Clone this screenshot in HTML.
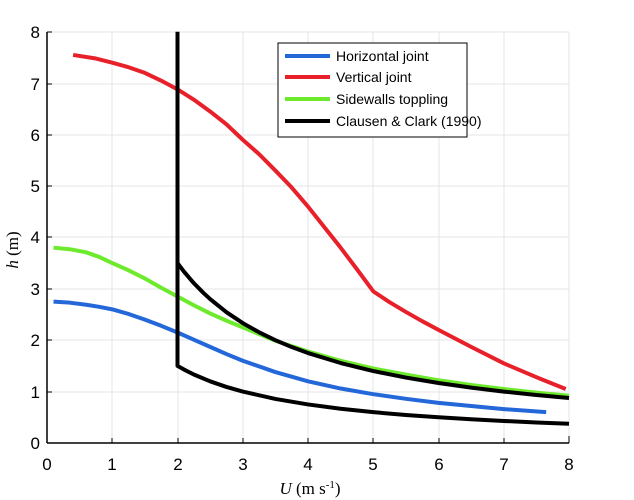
<!DOCTYPE html>
<html><head><style>body{margin:0;background:#fff}svg{display:block}</style></head><body>
<svg width="634" height="500" xmlns="http://www.w3.org/2000/svg" font-family="Liberation Sans, sans-serif">
<rect width="634" height="500" fill="#fff"/>
<g stroke="#e4e4e4" stroke-width="1">
<line x1="112" y1="32" x2="112" y2="443"/><line x1="178" y1="32" x2="178" y2="443"/><line x1="243" y1="32" x2="243" y2="443"/><line x1="308" y1="32" x2="308" y2="443"/><line x1="373" y1="32" x2="373" y2="443"/><line x1="439" y1="32" x2="439" y2="443"/><line x1="504" y1="32" x2="504" y2="443"/><line x1="569" y1="32" x2="569" y2="443"/>
<line x1="47" y1="32" x2="569" y2="32"/><line x1="47" y1="84" x2="569" y2="84"/><line x1="47" y1="135" x2="569" y2="135"/><line x1="47" y1="186" x2="569" y2="186"/><line x1="47" y1="237" x2="569" y2="237"/><line x1="47" y1="289" x2="569" y2="289"/><line x1="47" y1="340" x2="569" y2="340"/><line x1="47" y1="392" x2="569" y2="392"/>
</g>
<g transform="translate(47,443) scale(65.25,-51.4)" fill="none" stroke-width="4" stroke-linejoin="round">
<path vector-effect="non-scaling-stroke" stroke="#e8202a" d="M0.4,7.55 L0.75,7.48 L1,7.4 L1.25,7.31 L1.5,7.2 L1.75,7.05 L2,6.88 L2.25,6.68 L2.5,6.45 L2.75,6.2 L3,5.9 L3.25,5.62 L3.5,5.3 L3.75,4.97 L4,4.6 L4.25,4.2 L4.5,3.8 L4.75,3.38 L5,2.95 L5.25,2.74 L5.5,2.55 L5.75,2.37 L6,2.2 L6.5,1.87 L7,1.55 L7.5,1.28 L7.95,1.05"/>
<path vector-effect="non-scaling-stroke" stroke="#6eea2c" d="M0.1,3.8 L0.35,3.77 L0.6,3.71 L0.8,3.62 L1,3.5 L1.25,3.36 L1.5,3.2 L1.75,3.02 L2,2.85 L2.25,2.68 L2.5,2.52 L2.75,2.38 L3,2.25 L3.5,1.99 L4,1.78 L4.5,1.6 L5,1.45 L5.5,1.33 L6,1.22 L6.5,1.13 L7,1.05 L7.5,0.98 L8,0.92"/>
<path vector-effect="non-scaling-stroke" stroke="#2367d9" d="M0.1,2.75 L0.35,2.73 L0.6,2.69 L0.8,2.65 L1,2.6 L1.25,2.51 L1.5,2.4 L1.75,2.28 L2,2.15 L2.25,2.01 L2.5,1.87 L2.75,1.73 L3,1.6 L3.5,1.38 L4,1.2 L4.5,1.06 L5,0.95 L5.5,0.86 L6,0.78 L6.5,0.72 L7,0.66 L7.65,0.6"/>
<path vector-effect="non-scaling-stroke" stroke="#000" d="M2,8 L2,1.5 L2.1,1.429 L2.25,1.333 L2.5,1.2 L2.75,1.091 L3,1 L3.5,0.857 L4,0.75 L4.5,0.667 L5,0.6 L5.5,0.545 L6,0.5 L6.5,0.462 L7,0.429 L7.5,0.4 L8,0.375"/>
<path vector-effect="non-scaling-stroke" stroke="#000" d="M2,3.5 L2.1,3.333 L2.25,3.11 L2.4,2.917 L2.5,2.8 L2.75,2.545 L3,2.333 L3.25,2.154 L3.5,2 L3.75,1.867 L4,1.75 L4.5,1.556 L5,1.4 L5.5,1.273 L6,1.167 L6.5,1.077 L7,1 L7.5,0.933 L8,0.875"/>
</g>
<g stroke="#000" stroke-width="1.5">
<line x1="47" y1="32" x2="47" y2="443"/><line x1="47" y1="443" x2="569" y2="443"/>
</g>
<g stroke="#000" stroke-width="1">
<line x1="112" y1="443" x2="112" y2="438"/><line x1="178" y1="443" x2="178" y2="438"/><line x1="243" y1="443" x2="243" y2="438"/><line x1="308" y1="443" x2="308" y2="438"/><line x1="373" y1="443" x2="373" y2="438"/><line x1="439" y1="443" x2="439" y2="438"/><line x1="504" y1="443" x2="504" y2="438"/><line x1="569" y1="443" x2="569" y2="436"/>
<line x1="47" y1="32" x2="52" y2="32"/><line x1="47" y1="84" x2="52" y2="84"/><line x1="47" y1="135" x2="52" y2="135"/><line x1="47" y1="186" x2="52" y2="186"/><line x1="47" y1="237" x2="52" y2="237"/><line x1="47" y1="289" x2="52" y2="289"/><line x1="47" y1="340" x2="52" y2="340"/><line x1="47" y1="392" x2="52" y2="392"/>
</g>
<g font-size="17" text-anchor="middle">
<text x="47" y="470">0</text><text x="112" y="470">1</text><text x="178" y="470">2</text><text x="243" y="470">3</text><text x="308" y="470">4</text><text x="373" y="470">5</text><text x="439" y="470">6</text><text x="504" y="470">7</text><text x="569" y="470">8</text>
</g>
<g font-size="17" text-anchor="end">
<text x="40" y="449">0</text><text x="40" y="398">1</text><text x="40" y="346">2</text><text x="40" y="295">3</text><text x="40" y="243">4</text><text x="40" y="192">5</text><text x="40" y="141">6</text><text x="40" y="90">7</text><text x="40" y="38">8</text>
</g>
<text x="310" y="494" font-family="Liberation Serif, serif" font-size="17" text-anchor="middle"><tspan font-style="italic">U</tspan> (m s<tspan font-size="11" dy="-6">-1</tspan><tspan dy="6">)</tspan></text>
<text transform="translate(18,250) rotate(-90)" font-family="Liberation Serif, serif" font-size="17" text-anchor="middle"><tspan font-style="italic">h</tspan> (m)</text>
<rect x="278" y="43" width="189" height="94" fill="#fff" stroke="#000" stroke-width="1"/>
<g stroke-width="4">
<line x1="285" y1="56" x2="330" y2="56" stroke="#2367d9"/>
<line x1="285" y1="77" x2="330" y2="77" stroke="#e8202a"/>
<line x1="285" y1="99" x2="330" y2="99" stroke="#6eea2c"/>
<line x1="285" y1="121" x2="330" y2="121" stroke="#000"/>
</g>
<g font-size="14">
<text x="336" y="61">Horizontal joint</text>
<text x="336" y="82">Vertical joint</text>
<text x="336" y="104">Sidewalls toppling</text>
<text x="336" y="126">Clausen &amp; Clark (1990)</text>
</g>
</svg>
</body></html>
